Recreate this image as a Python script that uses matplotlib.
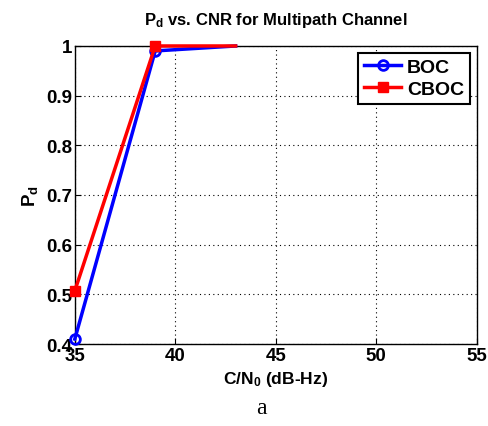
import numpy as np
import matplotlib.pyplot as plt

plt.rcParams['font.family'] = ['Liberation Sans', 'DejaVu Sans']
plt.rcParams['font.weight'] = 'bold'
plt.rcParams['mathtext.fontset'] = 'custom'
plt.rcParams['mathtext.rm'] = 'Liberation Sans:bold'
plt.rcParams['mathtext.it'] = 'Liberation Sans:bold'

cnr = [35, 39, 43]
pd_boc = [0.41, 0.99, 1.0]
pd_cboc = [0.507, 1.0, 1.0]

fig = plt.figure(figsize=(4.89, 4.27), dpi=100)
ax = fig.add_axes([0.153, 0.192, 0.822, 0.698])

ax.plot(cnr, pd_boc, '-o', color='#0000ff', lw=2.5, ms=7, mew=2,
        mfc='none', markevery=[0, 1], label='BOC', clip_on=False, zorder=3)
ax.plot(cnr, pd_cboc, '-s', color='#ff0000', lw=2.5, ms=7,
        markevery=[0, 1], label='CBOC', clip_on=False, zorder=4)

ax.set_xlim(35, 55)
ax.set_ylim(0.4, 1.0)
ax.set_xticks([35, 40, 45, 50, 55])
ax.set_yticks([0.4, 0.5, 0.6, 0.7, 0.8, 0.9, 1.0])
ax.set_yticklabels(['0.4', '0.5', '0.6', '0.7', '0.8', '0.9', '1'])
ax.grid(True, ls=(0, (1, 3)), color='k', lw=0.8)
ax.tick_params(labelsize=13.5, direction='in', length=4, pad=2)
for s in ax.spines.values():
    s.set_linewidth(1.0)

ax.set_title(r'P$_\mathregular{d}$ vs. CNR for Multipath Channel', fontsize=12,
             fontweight='bold', pad=16)
ax.set_xlabel(r'C/N$_\mathregular{0}$ (dB-Hz)', fontsize=12.5, fontweight='bold', labelpad=4)
ax.set_ylabel(r'P$_\mathregular{d}$', fontsize=13.5, fontweight='bold', labelpad=4)

leg = ax.legend(loc='upper right', fontsize=14, handlelength=1.9, fancybox=False,
                framealpha=1, edgecolor='k', borderpad=0.3, labelspacing=0.2,
                handletextpad=0.3, borderaxespad=0.35)
leg.get_frame().set_linewidth(1.5)

fig.text(0.535, 0.03, 'a', fontsize=17, family='Liberation Serif', fontweight='normal',
         ha='center')

fig.savefig('out.png', dpi=100)
